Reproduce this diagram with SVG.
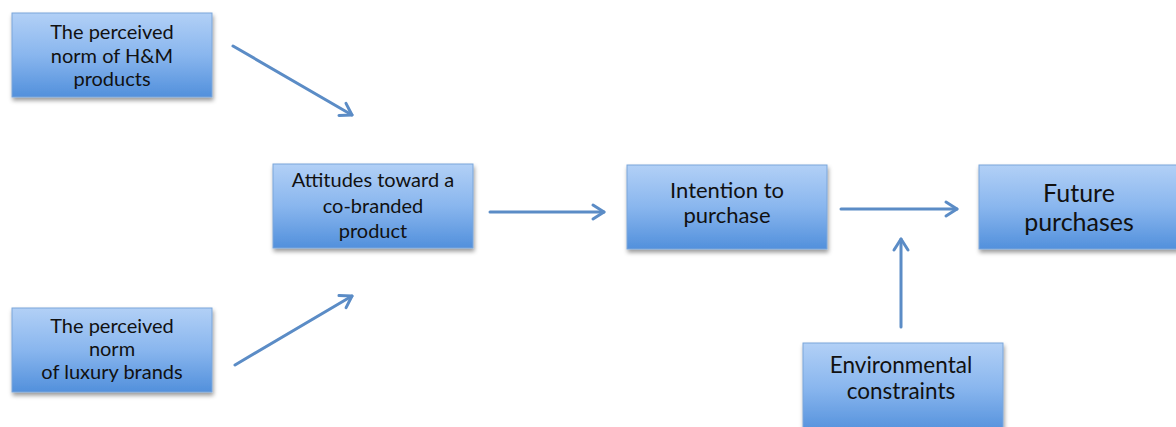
<svg xmlns="http://www.w3.org/2000/svg" width="1176" height="427" viewBox="0 0 1176 427">
  <defs>
    <linearGradient id="boxGrad" x1="0" y1="0" x2="0" y2="1">
      <stop offset="0" stop-color="#b2d0f6"/>
      <stop offset="0.5" stop-color="#89b6ee"/>
      <stop offset="1" stop-color="#5290dc"/>
    </linearGradient>
    <filter id="shadow" x="-10%" y="-10%" width="130%" height="140%">
      <feDropShadow dx="1" dy="3" stdDeviation="2" flood-color="#000" flood-opacity="0.4"/>
    </filter>
    <marker id="arrow" markerUnits="userSpaceOnUse" markerWidth="20" markerHeight="20" viewBox="-14 -10 20 20" refX="0" refY="0" orient="auto">
      <path d="M-11,-7 L0,0 L-11,7" fill="none" stroke="#5b8cc6" stroke-width="3" stroke-linecap="round" stroke-linejoin="round"/>
    </marker>
  </defs>
  <style>
    .box { fill: url(#boxGrad); stroke: #7aa6da; stroke-width: 1; filter: url(#shadow); }
    .lbl { font-family: Lato, "Open Sans", "Liberation Sans", sans-serif; fill: #111; text-anchor: middle; }
    .s { font-size: 20px; }
    .m { font-size: 22px; }
    .e { font-size: 22.5px; }
    .l { font-size: 25px; }
    .conn { stroke: #5b8cc6; stroke-width: 3; fill: none; marker-end: url(#arrow); stroke-linecap: round; }
  </style>
  <rect width="1176" height="427" fill="#ffffff"/>

  <g id="connectors">
    <line class="conn" x1="233" y1="46" x2="352" y2="115"/>
    <line class="conn" x1="235" y1="365" x2="352" y2="296"/>
    <line class="conn" x1="490" y1="212" x2="604" y2="212"/>
    <line class="conn" x1="841" y1="209" x2="957" y2="209"/>
    <line class="conn" x1="901" y1="327" x2="901" y2="239"/>
  </g>

  <g id="node-hm">
    <rect class="box" x="12" y="13" width="200" height="84"/>
    <text class="lbl s" x="112" y="39">The perceived</text>
    <text class="lbl s" x="112" y="63">norm of H&amp;M</text>
    <text class="lbl s" x="112" y="86">products</text>
  </g>

  <g id="node-luxury">
    <rect class="box" x="12" y="308" width="200" height="84"/>
    <text class="lbl s" x="112" y="333">The perceived</text>
    <text class="lbl s" x="112" y="356">norm</text>
    <text class="lbl s" x="112" y="379">of luxury brands</text>
  </g>

  <g id="node-attitudes">
    <rect class="box" x="273" y="164" width="200" height="84"/>
    <text class="lbl s" x="373" y="187">Attitudes toward a</text>
    <text class="lbl s" x="373" y="213">co-branded</text>
    <text class="lbl s" x="373" y="238">product</text>
  </g>

  <g id="node-intention">
    <rect class="box" x="627" y="165" width="200" height="84"/>
    <text class="lbl m" x="727" y="198">Intention to</text>
    <text class="lbl m" x="727" y="223">purchase</text>
  </g>

  <g id="node-future">
    <rect class="box" x="979" y="165" width="200" height="84"/>
    <text class="lbl l" x="1079" y="202">Future</text>
    <text class="lbl l" x="1079" y="231">purchases</text>
  </g>

  <g id="node-environmental">
    <rect class="box" x="803" y="343" width="200" height="90"/>
    <text class="lbl e" x="901" y="373">Environmental</text>
    <text class="lbl e" x="901" y="399">constraints</text>
  </g>
</svg>
